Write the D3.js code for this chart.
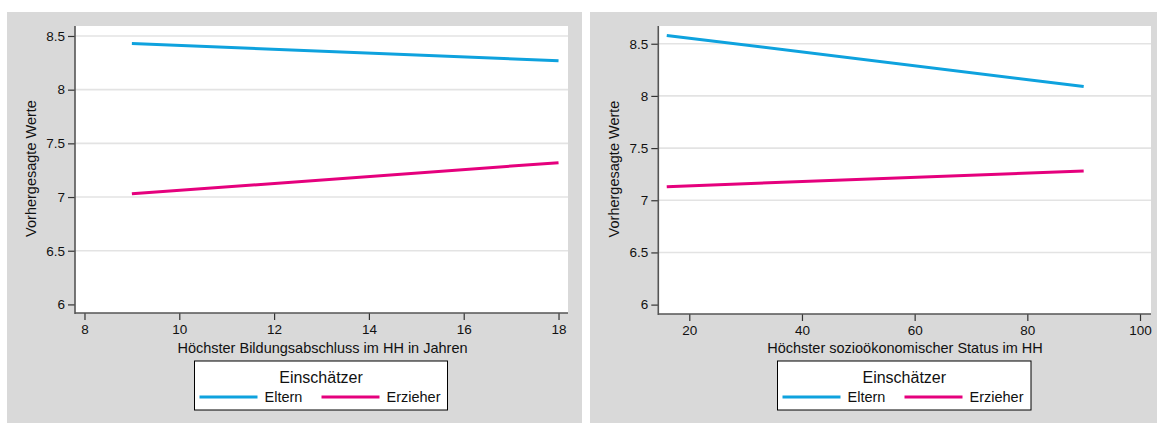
<!DOCTYPE html>
<html><head><meta charset="utf-8">
<script src="https://cdn.jsdelivr.net/npm/d3@7"></script>
<style>
body{margin:0;background:#fff;}
svg{display:block;font-family:"Liberation Sans",Arial,sans-serif;}
</style></head>
<body><svg id="c" width="1158" height="423"></svg>
<script>
// Data
const seriesNames = ["Eltern", "Erzieher"];
const seriesColors = ["#0ea2de", "#e5007d"];
const yTicks = [6, 6.5, 7, 7.5, 8, 8.5];
const yTickLabels = ["6", "6.5", "7", "7.5", "8", "8.5"];

const bildungX = [9, 18];
const bildungEltern = [8.43, 8.27];
const bildungErzieher = [7.03, 7.32];
const bildungTicks = [8, 10, 12, 14, 16, 18];

const sesX = [16, 90];
const sesEltern = [8.58, 8.09];
const sesErzieher = [7.13, 7.28];
const sesTicks = [20, 40, 60, 80, 100];

const yTitle = "Vorhergesagte Werte";
const legendTitle = "Einschätzer";

const svg = d3.select("#c");

function panel(cfg){
  const g = svg.append("g");
  g.append("rect").attr("x",cfg.bg[0]).attr("y",cfg.bg[1]).attr("width",cfg.bg[2]).attr("height",cfg.bg[3]).attr("fill","#d9d9d9");
  const x = d3.scaleLinear().domain(cfg.xd).range([cfg.pl, cfg.pr]);
  const y = d3.scaleLinear().domain(cfg.yd).range([cfg.pb, cfg.pt]);
  g.append("rect").attr("x",cfg.pl).attr("y",cfg.pt).attr("width",cfg.pr-cfg.pl).attr("height",cfg.pb-cfg.pt).attr("fill","#fff");
  // grid
  g.selectAll(".grid").data(yTicks.filter(v=>v>6)).enter().append("line")
    .attr("x1",cfg.pl).attr("x2",cfg.pr).attr("y1",d=>y(d)).attr("y2",d=>y(d))
    .attr("stroke","#e3e3e3").attr("stroke-width",1.6);
  // axes
  const ya = g.append("g").attr("transform",`translate(${cfg.pl},0)`)
    .call(d3.axisLeft(y).tickValues(yTicks).tickFormat((d,i)=>yTickLabels[i]).tickSize(7).tickPadding(3));
  const xa = g.append("g").attr("transform",`translate(0,${cfg.pb})`)
    .call(d3.axisBottom(x).tickValues(cfg.xt).tickFormat(d3.format("d")).tickSize(7).tickPadding(4));
  [ya, xa].forEach(a=>{
    a.select(".domain").remove();
    a.selectAll("line").attr("stroke","#333").attr("stroke-width",1.2);
    a.selectAll("text").attr("font-size",13.5).attr("fill","#111").attr("font-family","Liberation Sans, Arial, sans-serif");
  });
  g.append("line").attr("x1",cfg.pl).attr("x2",cfg.pl).attr("y1",cfg.pt).attr("y2",cfg.pb+1).attr("stroke","#555").attr("stroke-width",1.6);
  g.append("line").attr("x1",cfg.pl).attr("x2",cfg.pr).attr("y1",cfg.pb).attr("y2",cfg.pb).attr("stroke","#555").attr("stroke-width",1.6);
  // lines
  const line = d3.line().x(d=>x(d[0])).y(d=>y(d[1]));
  cfg.series.forEach((s,i)=>{
    g.append("path").datum(cfg.xs.map((v,j)=>[v,s[j]])).attr("d",line)
      .attr("fill","none").attr("stroke",seriesColors[i]).attr("stroke-width",3);
  });
  // titles
  g.append("text").attr("x",cfg.xtc).attr("y",353).attr("text-anchor","middle")
    .attr("font-size",14.5).attr("fill","#111").text(cfg.xtitle);
  g.append("text").attr("transform",`translate(${cfg.ytx},${(cfg.pt+cfg.pb)/2 - 1})rotate(-90)`).attr("text-anchor","middle")
    .attr("font-size",14.5).attr("fill","#111").text(yTitle);
  // legend
  const L = cfg.leg;
  g.append("rect").attr("x",L.x).attr("y",361).attr("width",L.w).attr("height",49).attr("fill","#fff").attr("stroke","#000").attr("stroke-width",1);
  g.append("text").attr("x",L.x+L.w/2).attr("y",382.5).attr("text-anchor","middle").attr("font-size",16).attr("fill","#111").text(legendTitle);
  seriesNames.forEach((n,i)=>{
    const lx = L.x + 5 + i*(L.step);
    g.append("line").attr("x1",lx).attr("x2",lx+58).attr("y1",397).attr("y2",397).attr("stroke",seriesColors[i]).attr("stroke-width",3);
    g.append("text").attr("x",lx+65).attr("y",402).attr("font-size",14.5).attr("fill","#111").text(n);
  });
}

panel({bg:[7,12,575,411], xd:[7.8,18.2], yd:[5.92,8.593], pl:75, pr:568, pt:26, pb:313,
  xt:bildungTicks, xs:bildungX, series:[bildungEltern,bildungErzieher],
  xtitle:"Höchster Bildungsabschluss im HH in Jahren", xtc:322.5, ytx:35.5,
  leg:{x:194.5, w:253, step:122}});
panel({bg:[590,12,567,411], xd:[14.5,101.95], yd:[5.91,8.67], pl:658.3, pr:1151, pt:26, pb:314,
  xt:sesTicks, xs:sesX, series:[sesEltern,sesErzieher],
  xtitle:"Höchster sozioökonomischer Status im HH", xtc:905, ytx:619,
  leg:{x:777.5, w:253.5, step:122}});
</script></body></html>
